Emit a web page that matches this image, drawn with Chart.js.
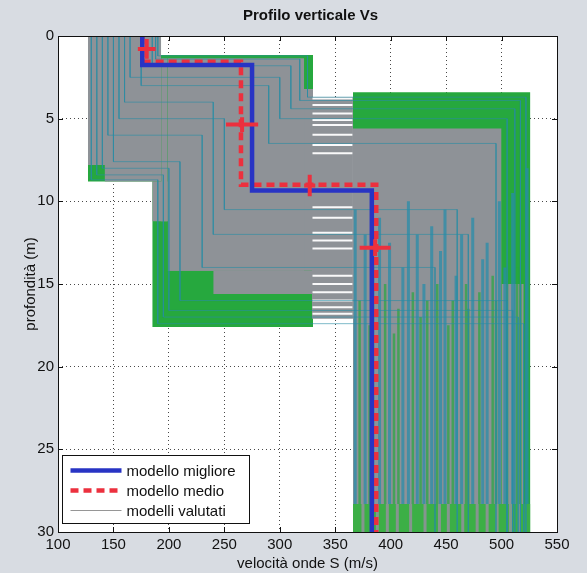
<!DOCTYPE html>
<html><head><meta charset="utf-8">
<script src="https://cdn.jsdelivr.net/npm/chart.js@4"></script>
<style>html,body{margin:0;padding:0;background:#d8dce2;}canvas{display:block}</style>
</head><body>
<canvas id="c" width="587" height="573"></canvas>
<script>
// ---- data ----
const xTicks = [100,150,200,250,300,350,400,450,500,550];
const yTicks = [0,5,10,15,20,25,30];

// best model (blue) and mean model (red dashed): velocity / depth of each vertex
const bestV = [176, 176, 275, 275, 383, 383];
const bestD = [0, 1.75, 1.75, 9.35, 9.35, 30];
const meanV = [176, 176, 265, 265, 387, 387];
const meanD = [0, 1.55, 1.55, 9.0, 9.0, 30];

// error crosses of the mean model
const crossV = [180, 266, 327, 386];
const crossD = [0.78, 5.36, 9.04, 12.8];
const crossErrV = [8, 14.5, 5, 14];
const crossErrD = [0.6, 0.45, 0.65, 0.5];

// envelope of the evaluated models: [vMin, vMax, dTop, dBottom]
const envelopeGreen = [[127,193,0,8.8],[185,330,1.15,17.6],[366,526,3.4,30]];
const cloudGray = [[127,193,0,7.8],[142,193,7.8,8.8],[185,199,8.8,11.2],[193,199,1.35,11.2],
  [199,322,1.35,14.2],[199,330,3.2,14.2],[240,330,14.2,15.6],[329,366,3.7,17.1],
  [366,500,5.6,28.3],[500,520,15,28.3]];
const bottomBandGreen = [[366,526,28.3,30]];

// layer-3 velocities of evaluated models (vertical stripes) and the depth where each starts
const stripeTealV = [368, 377, 384, 390, 399, 411, 416, 424, 430, 437, 445, 449, 459, 464, 474, 483, 487, 498, 503, 510, 523];
const stripeTealTop = [10.5, 12.0, 13.5, 11.0, 12.5, 14.0, 10.0, 12.0, 15.0, 11.5, 13.0, 10.5, 14.5, 12.0, 11.0, 13.5, 12.5, 10.0, 14.0, 9.5, 8.0];
const stripeGreenV = [372, 381, 395, 403, 407, 420, 427, 433, 442, 452, 456, 468, 470, 480, 492, 495, 505, 514, 517];
const stripeGreenTop = [16.0, 17.5, 15.0, 18.0, 16.5, 15.5, 17.0, 16.0, 15.0, 17.5, 16.0, 15.0, 16.5, 15.5, 14.5, 16.0, 15.0, 14.0, 13.0];
const bandGrayV = [375, 388, 397, 406, 418, 431, 444, 452, 465, 478, 487, 496, 508, 516];

// depths without any layer-2/3 interface (white gaps)
const gapWhiteD = [3.78, 4.18, 4.69, 5.08, 5.38, 5.98, 6.59, 7.09, 10.36, 11.0, 11.9, 12.37, 12.85, 14.5, 15.0, 15.5, 16.0, 16.4, 16.8];

// some individual evaluated models
const modelV1 = [130, 135, 140, 150, 190, 188, 185, 165, 160, 145, 175, 155];
const modelD1 = [8.7, 8.4, 8.0, 7.6, 1.2, 1.4, 1.8, 2.5, 4.0, 6.0, 3.0, 5.0];
const modelV2 = [190, 195, 200, 210, 325, 318, 310, 300, 240, 230, 290, 250];
const modelD2 = [17.4, 17.0, 16.6, 16.0, 3.7, 3.9, 4.4, 5.0, 12.0, 14.0, 6.5, 10.5];
const modelV3 = [520, 515, 510, 505, 522, 517, 512, 505, 470, 440, 495, 460];

// ---- colours ----
const GREEN = 'rgb(38,168,62)';
const GRAY = 'rgb(142,146,151)';
const TEAL = 'rgba(40,140,165,0.6)';
const BLUE = 'rgb(40,52,196)';
const RED = 'rgb(236,48,62)';

const datasets = [];
function rectSet(r, color, order){
  return {data:[{x:r[0],y:r[2]},{x:r[1],y:r[2]}], fill:{value:r[3]}, backgroundColor:color,
    borderColor:'rgba(0,0,0,0)', borderWidth:0, pointRadius:0, order};
}
function vLines(vs, tops, d1){
  const pts=[]; vs.forEach((v,i)=>{pts.push({x:v,y:Array.isArray(tops)?tops[i]:tops},{x:v,y:d1},{x:v,y:null});}); return pts;
}
envelopeGreen.forEach(r=>datasets.push(rectSet(r, GREEN, 100)));
cloudGray.forEach(r=>datasets.push(rectSet(r, GRAY, 90)));
datasets.push({data:vLines(stripeTealV,stripeTealTop,28.3), borderColor:'rgba(40,140,170,0.75)', borderWidth:3, pointRadius:0, fill:false, order:80});
datasets.push({data:vLines(stripeGreenV,stripeGreenTop,28.3), borderColor:'rgba(38,168,62,0.7)', borderWidth:2.5, pointRadius:0, fill:false, order:80});
bottomBandGreen.forEach(r=>datasets.push(rectSet(r, 'rgb(60,175,70)', 75)));
datasets.push({data:vLines(bandGrayV,28.3,30), borderColor:'rgba(142,146,151,0.9)', borderWidth:3, pointRadius:0, fill:false, order:74});
const gapPts=[]; gapWhiteD.forEach(d=>{gapPts.push({x:329.5,y:d},{x:365.5,y:d},{x:null,y:null});});
datasets.push({data:gapPts, borderColor:'rgba(255,255,255,0.95)', borderWidth:2, pointRadius:0, fill:false, order:70});
modelV1.forEach((v,i)=>{
  datasets.push({label: i===0?'modelli valutati':undefined,
    data:[{x:v,y:0},{x:v,y:modelD1[i]},{x:modelV2[i],y:modelD1[i]},{x:modelV2[i],y:modelD2[i]},{x:modelV3[i],y:modelD2[i]},{x:modelV3[i],y:30}],
    borderColor:TEAL, borderWidth:1, pointRadius:0, fill:false, order:60});
});
datasets.push({label:'modello medio', data:meanV.map((v,i)=>({x:v,y:meanD[i]})), borderColor:RED, borderWidth:4.5, borderDash:[8,5], pointRadius:0, fill:false, order:20, borderCapStyle:'butt'});
datasets.push({label:'modello migliore', data:bestV.map((v,i)=>({x:v,y:bestD[i]})), borderColor:BLUE, borderWidth:4.5, pointRadius:0, fill:false, order:10});
const crossPts=[];
crossV.forEach((v,i)=>{
  crossPts.push({x:v-crossErrV[i],y:crossD[i]},{x:v+crossErrV[i],y:crossD[i]},{x:null,y:null});
  crossPts.push({x:v,y:crossD[i]-crossErrD[i]},{x:v,y:crossD[i]+crossErrD[i]},{x:null,y:null});
});
datasets.push({data:crossPts, borderColor:RED, borderWidth:4, pointRadius:0, fill:false, order:5});

const FONT = "'Liberation Sans', Arial, sans-serif";
const TITLE = 'Profilo verticale Vs';

const deco = {
  id:'deco',
  beforeDraw(chart){
    const {ctx, chartArea:a} = chart;
    ctx.save();
    ctx.fillStyle='#d8dce2'; ctx.fillRect(0,0,chart.width,chart.height);
    ctx.fillStyle='#ffffff'; ctx.fillRect(a.left,a.top,a.right-a.left,a.bottom-a.top);
    ctx.fillStyle='#111'; ctx.font='bold 15px '+FONT; ctx.textAlign='center'; ctx.textBaseline='middle';
    ctx.fillText(TITLE,(a.left+a.right)/2+3,16);
    ctx.restore();
  },
  beforeDatasetsDraw(chart){
    const {ctx, chartArea:a, scales:{x,y}} = chart;
    ctx.save(); ctx.strokeStyle='#111'; ctx.lineWidth=1;
    xTicks.forEach(t=>{const p=Math.round(x.getPixelForValue(t))+0.5;
      ctx.beginPath(); ctx.moveTo(p,a.bottom); ctx.lineTo(p,a.bottom-5); ctx.moveTo(p,a.top); ctx.lineTo(p,a.top+5); ctx.stroke();});
    yTicks.forEach(t=>{const p=Math.round(y.getPixelForValue(t))+0.5;
      ctx.beginPath(); ctx.moveTo(a.left,p); ctx.lineTo(a.left+5,p); ctx.moveTo(a.right,p); ctx.lineTo(a.right-5,p); ctx.stroke();});
    ctx.restore();
  },
  afterDatasetsDraw(chart){
    const {ctx, chartArea:a} = chart;
    ctx.save();
    ctx.strokeStyle='#111'; ctx.lineWidth=1;
    ctx.strokeRect(Math.round(a.left)+0.5, Math.round(a.top)+0.5, Math.round(a.right-a.left), Math.round(a.bottom-a.top));
    // legend
    const bx=a.left+4.5, bh=68, by=a.bottom-76.5, bw=187;
    ctx.fillStyle='#fff'; ctx.fillRect(bx,by,bw,bh);
    ctx.strokeRect(bx,by,bw,bh);
    const items=[
      {label:'modello migliore', color:BLUE, w:4.5, dash:[]},
      {label:'modello medio', color:RED, w:4.5, dash:[8,5]},
      {label:'modelli valutati', color:'rgb(150,150,150)', w:1, dash:[]}
    ];
    ctx.font='15px '+FONT; ctx.textBaseline='middle'; ctx.textAlign='left';
    items.forEach((it,i)=>{
      const yy=by+15+i*20;
      ctx.beginPath(); ctx.setLineDash(it.dash); ctx.strokeStyle=it.color; ctx.lineWidth=it.w;
      ctx.moveTo(bx+8,yy); ctx.lineTo(bx+59,yy); ctx.stroke();
      ctx.setLineDash([]);
      ctx.fillStyle='#111'; ctx.fillText(it.label,bx+64,yy+1);
    });
    ctx.restore();
  }
};

new Chart(document.getElementById('c'), {
  type:'line',
  data:{datasets},
  options:{
    responsive:false, animation:false, events:[],
    layout:{padding:{left:0,right:30,top:36,bottom:0}},
    plugins:{ legend:{display:false}, tooltip:{enabled:false}, title:{display:false} },
    scales:{
      x:{type:'linear', min:100, max:550, position:'bottom',
        afterBuildTicks:s=>{s.ticks=xTicks.map(v=>({value:v}));},
        afterFit:s=>{s.height=41;},
        ticks:{color:'#111', font:{family:FONT,size:15}, padding:4, maxRotation:0},
        grid:{color:'rgba(40,40,40,0.85)', lineWidth:1, drawTicks:false},
        border:{display:false, dash:[1,3]},
        title:{display:true, text:'velocità onde S (m/s)', color:'#111', font:{family:FONT,size:15}, padding:{top:0,bottom:0}}
      },
      y:{type:'linear', min:0, max:30, reverse:true,
        afterBuildTicks:s=>{s.ticks=yTicks.map(v=>({value:v}));},
        afterFit:s=>{s.width=58;},
        ticks:{color:'#111', font:{family:FONT,size:15}, padding:4},
        grid:{color:'rgba(40,40,40,0.85)', lineWidth:1, drawTicks:false},
        border:{display:false, dash:[1,3]},
        title:{display:true, text:'profondità (m)', color:'#111', font:{family:FONT,size:15}, padding:{top:22,bottom:0}}
      }
    }
  },
  plugins:[deco]
});
</script>
</body></html>
